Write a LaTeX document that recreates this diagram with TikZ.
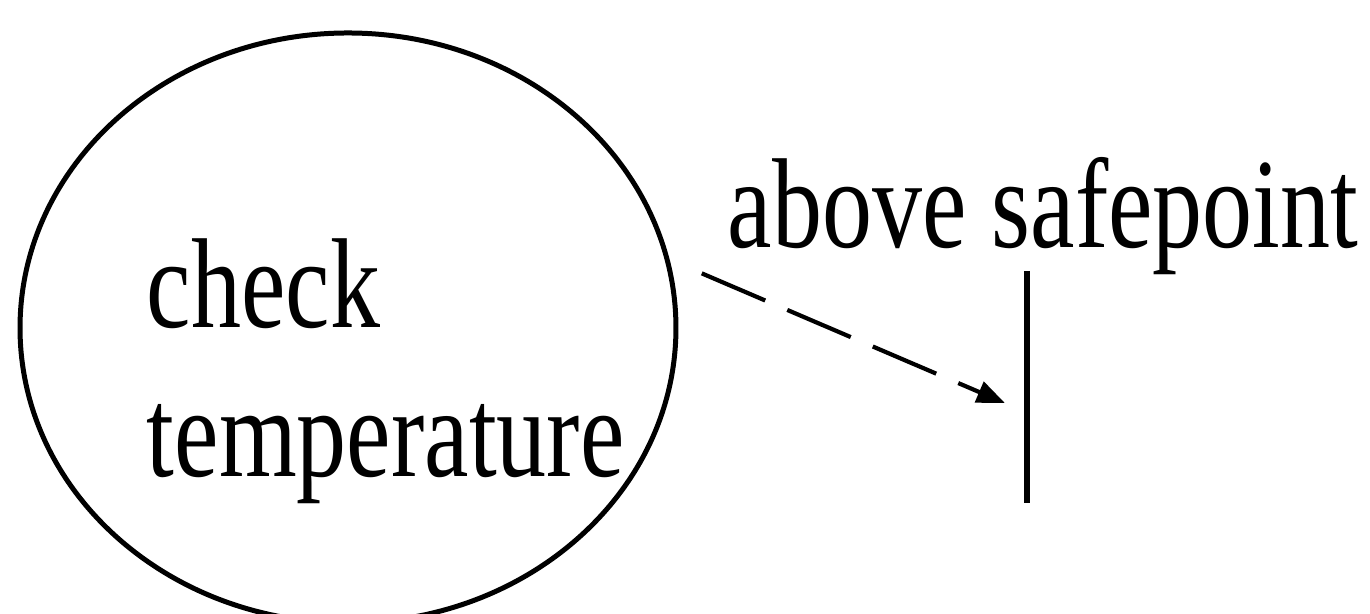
\documentclass[tikz,border=0pt]{standalone}
\usepackage{fontspec}
\setmainfont{Liberation Serif}
\usetikzlibrary{shapes.geometric,arrows.meta,calc}
\tikzset{
  lbltext/.style={inner sep=0pt, anchor=base west, font=\fontsize{10}{11.6}\selectfont},
  oval/.style={draw, ellipse, line width=0.5pt, minimum width=65.6pt, minimum height=59pt, inner sep=0pt},
  barline/.style={line width=0.55pt},
  flow/.style={line width=0.42pt, dash pattern=on 6.9pt off 2.4pt, -{Triangle[length=2.8pt,width=2.2pt]}}
}
\begin{document}
\begin{tikzpicture}[x=0.1pt,y=-0.1pt]
\useasboundingbox (0,0) rectangle (1370,614);
\node[oval] (check) at (348,328) {};
\node[lbltext] (checktext) at (145,328) {\scalebox{1}[1.28]{\begin{tabular}[t]{@{}l@{}}check\\temperature\end{tabular}}};
\node[lbltext] (safe) at (726,248) {\scalebox{1}[1.28]{above safepoint}};
\coordinate (bartop) at (1027,271);
\coordinate (barbot) at (1027,503);
\draw[barline] (bartop) -- (barbot);
\draw[flow, shorten <=3.5pt, shorten >=2.4pt] (check.12.7) -- ($(bartop)!0.61!(barbot)$);
\end{tikzpicture}
\end{document}
